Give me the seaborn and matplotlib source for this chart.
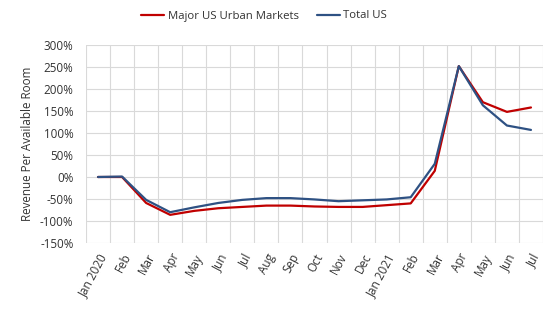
import matplotlib
matplotlib.use("Agg")
import matplotlib.pyplot as plt
import seaborn as sns
import pandas as pd
import numpy as np
from matplotlib.ticker import FixedLocator, FuncFormatter
from matplotlib.lines import Line2D

months = ["Jan 2020", "Feb", "Mar", "Apr", "May", "Jun", "Jul", "Aug", "Sep", "Oct",
          "Nov", "Dec", "Jan 2021", "Feb", "Mar", "Apr", "May", "Jun", "Jul"]
urban = [0, 0, -59, -86, -77, -71, -68, -65, -65, -67, -68, -68, -64, -60, 14, 252, 170, 148, 158]
total = [0, 1, -52, -80, -69, -59, -52, -48, -48, -51, -55, -53, -51, -46, 30, 252, 163, 117, 107]
series_names = ["Major US Urban Markets", "Total US"]
colors = ["#C00000", "#2E5183"]
yticks = list(range(-150, 301, 50))

df = pd.DataFrame({
    "idx": list(range(len(months))) * 2,
    "value": urban + total,
    "series": [series_names[0]] * len(months) + [series_names[1]] * len(months),
})

sns.set_theme(style="white")
plt.rcParams['font.family'] = ['Open Sans', 'DejaVu Sans']

fig = plt.figure(figsize=(5.56, 3.22), dpi=100)
ax = fig.add_axes([86/556, 1-243/322, (543-86)/556, (243-45)/322])

sns.lineplot(data=df, x="idx", y="value", hue="series", hue_order=series_names,
             palette=colors, linewidth=1.6, ax=ax, legend=False)

ax.set_xlim(-0.5, len(months) - 0.5)
ax.set_ylim(-150, 300)
ax.set_yticks(yticks)
ax.yaxis.set_major_formatter(FuncFormatter(lambda v, p: f"{int(v)}%"))
ax.set_xticks(range(len(months)))
ax.set_xticklabels(months, rotation=62, ha="right", rotation_mode="anchor")
ax.xaxis.set_minor_locator(FixedLocator(np.arange(-0.5, len(months), 1.0)))
ax.grid(False)
ax.grid(True, which="minor", axis="x", color="#D9D9D9", linewidth=0.8)
ax.grid(True, which="major", axis="y", color="#D9D9D9", linewidth=0.8)
ax.set_axisbelow(True)
for s in ax.spines.values():
    s.set_visible(False)
ax.tick_params(axis="both", which="both", length=0, labelsize=8.4, colors="#333333")
ax.tick_params(axis="y", pad=9)
ax.tick_params(axis="x", pad=6)
ax.set_xlabel("")
ax.set_ylabel("Revenue Per Available Room", fontsize=8.4, color="#333333", labelpad=4)

handles = [Line2D([0], [0], color=c, lw=1.6) for c in colors]
fig.legend(handles, series_names, loc="center", bbox_to_anchor=(264/556, 1-16/322),
           ncol=2, frameon=False, fontsize=8.2, handlelength=2.0, handletextpad=0.3,
           columnspacing=1.6, labelcolor="#333333")

fig.savefig("out.png", dpi=100)
